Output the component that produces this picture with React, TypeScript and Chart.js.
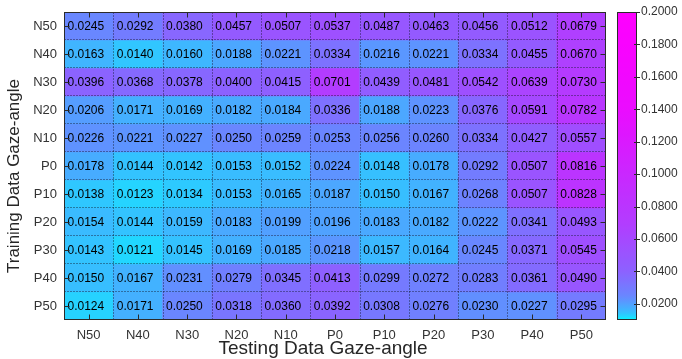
import React, { useEffect, useRef } from "react";
import { Chart, registerables } from "chart.js";
Chart.register(...registerables);

const testLabels = ["N50", "N40", "N30", "N20", "N10", "P0", "P10", "P20", "P30", "P40", "P50"];
const trainLabels = ["N50", "N40", "N30", "N20", "N10", "P0", "P10", "P20", "P30", "P40", "P50"];

const rowN50 = [0.0245, 0.0292, 0.038, 0.0457, 0.0507, 0.0537, 0.0487, 0.0463, 0.0456, 0.0512, 0.0679];
const rowN40 = [0.0163, 0.014, 0.016, 0.0188, 0.0221, 0.0334, 0.0216, 0.0221, 0.0334, 0.0455, 0.067];
const rowN30 = [0.0396, 0.0368, 0.0378, 0.04, 0.0415, 0.0701, 0.0439, 0.0481, 0.0542, 0.0639, 0.073];
const rowN20 = [0.0206, 0.0171, 0.0169, 0.0182, 0.0184, 0.0336, 0.0188, 0.0223, 0.0376, 0.0591, 0.0782];
const rowN10 = [0.0226, 0.0221, 0.0227, 0.025, 0.0259, 0.0253, 0.0256, 0.026, 0.0334, 0.0427, 0.0557];
const rowP0 = [0.0178, 0.0144, 0.0142, 0.0153, 0.0152, 0.0224, 0.0148, 0.0178, 0.0292, 0.0507, 0.0816];
const rowP10 = [0.0138, 0.0123, 0.0134, 0.0153, 0.0165, 0.0187, 0.015, 0.0167, 0.0268, 0.0507, 0.0828];
const rowP20 = [0.0154, 0.0144, 0.0159, 0.0183, 0.0199, 0.0196, 0.0183, 0.0182, 0.0222, 0.0341, 0.0493];
const rowP30 = [0.0143, 0.0121, 0.0145, 0.0169, 0.0185, 0.0218, 0.0157, 0.0164, 0.0245, 0.0371, 0.0545];
const rowP40 = [0.015, 0.0167, 0.0231, 0.0279, 0.0345, 0.0413, 0.0299, 0.0272, 0.0283, 0.0361, 0.049];
const rowP50 = [0.0124, 0.0171, 0.025, 0.0318, 0.036, 0.0392, 0.0308, 0.0276, 0.023, 0.0227, 0.0295];

const cbTicks = [0.02, 0.04, 0.06, 0.08, 0.1, 0.12, 0.14, 0.16, 0.18, 0.2];
const cbMin = 0.01;
const cbMax = 0.2;

const xTitle = "Testing Data Gaze-angle";
const yTitle = "Training Data Gaze-angle";

// colormap shape (value -> position along cyan..magenta)
const cmapValues = [0.01, 0.0124, 0.0163, 0.0245, 0.04, 0.07, 0.1, 0.14, 0.2];
const cmapPos = [0.0, 0.15, 0.25, 0.41, 0.55, 0.7, 0.79, 0.92, 1.0];

const FONT = "'Liberation Sans', Arial, Helvetica, sans-serif";

function coolT(v: number) {
  if (v <= cmapValues[0]) return cmapPos[0];
  for (let k = 1; k < cmapValues.length; k++) {
    if (v <= cmapValues[k]) {
      const f = (v - cmapValues[k - 1]) / (cmapValues[k] - cmapValues[k - 1]);
      return cmapPos[k - 1] + f * (cmapPos[k] - cmapPos[k - 1]);
    }
  }
  return 1;
}
function coolColor(v: number) {
  const t = coolT(v);
  return `rgb(${Math.round(255 * t)},${Math.round(255 * Math.pow(1 - t, 1.2))},255)`;
}

const noPad = (s: any) => {
  s.paddingTop = 0;
  s.paddingBottom = 0;
  s.paddingLeft = 0;
  s.paddingRight = 0;
};

export default function App() {
  const ref = useRef<HTMLCanvasElement>(null);
  useEffect(() => {
    document.body.style.margin = "0";
    const matrix = [rowN50, rowN40, rowN30, rowN20, rowN10, rowP0, rowP10, rowP20, rowP30, rowP40, rowP50];

    const overlay = {
      id: "overlay",
      afterDatasetsDraw(chart: any) {
        const { ctx, chartArea: a, scales } = chart;
        const xs = scales.x, ys = scales.y, cb = scales.cb;
        const L = Math.round(a.left) + 0.5, R = Math.round(a.right) - 0.5;
        const T = Math.round(a.top) + 0.5, B = Math.round(a.bottom) - 0.5;
        ctx.save();
        // dotted cell boundaries
        ctx.strokeStyle = "rgba(20,20,40,0.85)";
        ctx.lineWidth = 1;
        ctx.setLineDash([1, 2]);
        for (let j = 1; j < testLabels.length; j++) {
          const px = Math.round(xs.getPixelForValue(j - 0.5)) + 0.5;
          ctx.beginPath(); ctx.moveTo(px, T); ctx.lineTo(px, B); ctx.stroke();
        }
        for (let i = 1; i < trainLabels.length; i++) {
          const py = Math.round(ys.getPixelForValue(i - 0.5)) - 0.5;
          ctx.beginPath(); ctx.moveTo(L, py); ctx.lineTo(R, py); ctx.stroke();
        }
        ctx.setLineDash([]);
        // cell values
        ctx.fillStyle = "#000";
        ctx.font = `12px ${FONT}`;
        ctx.textAlign = "left";
        ctx.textBaseline = "middle";
        matrix.forEach((row, i) => {
          row.forEach((v, j) => {
            const x0 = xs.getPixelForValue(j - 0.5);
            const y = ys.getPixelForValue(i);
            ctx.fillText(v.toFixed(4), x0 + 3.5, y + 1);
          });
        });
        // border
        ctx.strokeStyle = "#2b2b2b";
        ctx.lineWidth = 1;
        ctx.strokeRect(L, T, R - L, B - T);
        // tick marks
        ctx.beginPath();
        testLabels.forEach((_, j) => {
          const px = Math.round(xs.getPixelForValue(j)) + 0.5;
          ctx.moveTo(px, T); ctx.lineTo(px, T + 5);
          ctx.moveTo(px, B); ctx.lineTo(px, B - 5);
        });
        trainLabels.forEach((_, i) => {
          const py = Math.round(ys.getPixelForValue(i)) + 0.5;
          ctx.moveTo(L, py); ctx.lineTo(L + 5, py);
          ctx.moveTo(R, py); ctx.lineTo(R - 5, py);
        });
        ctx.stroke();
        // colorbar
        const cx0 = Math.round(a.right) + 11;
        const cw = 20;
        const cTop = cb.getPixelForValue(cbMax);
        const cBot = cb.getPixelForValue(cbMin);
        const grad = ctx.createLinearGradient(0, cBot, 0, cTop);
        for (let k = 0; k <= 100; k++) {
          const v = cbMin + (cbMax - cbMin) * (k / 100);
          grad.addColorStop(k / 100, coolColor(v));
        }
        ctx.fillStyle = grad;
        ctx.fillRect(cx0, cTop, cw, cBot - cTop);
        ctx.strokeStyle = "#2b2b2b";
        ctx.strokeRect(cx0 + 0.5, Math.round(cTop) + 0.5, cw - 1, Math.round(cBot - cTop) - 1);
        ctx.beginPath();
        cbTicks.forEach((t) => {
          const py = Math.round(cb.getPixelForValue(t)) + 0.5;
          ctx.moveTo(cx0 + cw - 3, py); ctx.lineTo(cx0 + cw + 3, py);
        });
        ctx.stroke();
        // axis titles
        ctx.fillStyle = "#262626";
        ctx.textAlign = "center";
        ctx.textBaseline = "middle";
        ctx.font = `19px ${FONT}`;
        ctx.fillText(xTitle, a.left + (a.right - a.left) * 0.478, 349);
        ctx.save();
        ctx.translate(14, (a.top + a.bottom) / 2 + 10);
        ctx.rotate(-Math.PI / 2);
        ctx.font = `17px ${FONT}`;
        ctx.fillText(yTitle, 0, 0);
        ctx.restore();
        ctx.restore();
      },
    };

    const datasets = matrix.map((row, i) => ({
      label: trainLabels[i],
      data: testLabels.map(() => [i - 0.5, i + 0.5]),
      backgroundColor: row.map((v) => coolColor(v)),
      borderWidth: 0,
      grouped: false,
      barPercentage: 1,
      categoryPercentage: 1,
      yAxisID: "y",
    }));

    const chart = new Chart(ref.current!, {
      type: "bar",
      data: { labels: testLabels, datasets: datasets as any },
      options: {
        responsive: false,
        animation: false,
        events: [],
        layout: { padding: { top: 12, left: 0, right: 0, bottom: 0 } },
        plugins: { legend: { display: false }, tooltip: { enabled: false } },
        scales: {
          x: {
            type: "category",
            offset: true,
            grid: { display: false, drawTicks: false },
            border: { display: false },
            ticks: { color: "#333", font: { family: FONT, size: 13 }, padding: 8, maxRotation: 0, autoSkip: false },
            afterFit: (s: any) => { s.height = 39; noPad(s); },
          },
          y: {
            type: "linear",
            reverse: true,
            min: -0.5,
            max: 10.5,
            afterBuildTicks: (s: any) => { s.ticks = trainLabels.map((_, i) => ({ value: i })); },
            grid: { display: false, drawTicks: false },
            border: { display: false },
            ticks: { color: "#333", font: { family: FONT, size: 13 }, padding: 7, callback: (v: any) => trainLabels[v as number] },
            afterFit: (s: any) => { s.width = 64; noPad(s); },
          },
          cb: {
            type: "linear",
            position: "right",
            min: cbMin,
            max: cbMax,
            afterBuildTicks: (s: any) => { s.ticks = cbTicks.map((v) => ({ value: v })); },
            grid: { display: false, drawTicks: false },
            border: { display: false },
            ticks: { color: "#333", font: { family: FONT, size: 12 }, padding: 35, callback: (v: any) => Number(v).toFixed(4) },
            afterFit: (s: any) => { s.width = 76; noPad(s); },
          },
        },
      },
      plugins: [overlay],
    });
    return () => chart.destroy();
  }, []);
  return (
    <div style={{ position: "absolute", left: 0, top: 0, width: 682, height: 359 }}>
      <canvas ref={ref} width={682} height={359} style={{ display: "block" }} />
    </div>
  );
}
